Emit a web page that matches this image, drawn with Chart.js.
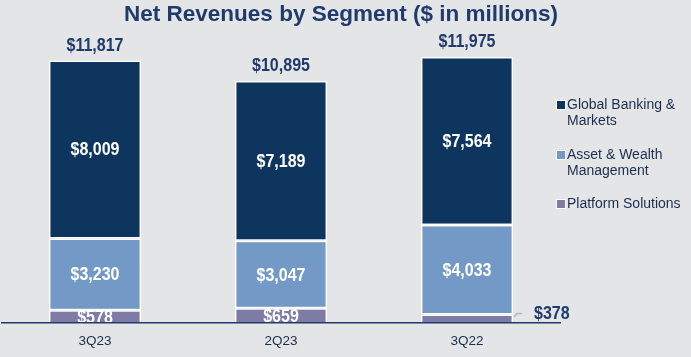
<!DOCTYPE html>
<html><head><meta charset="utf-8">
<script src="https://cdn.jsdelivr.net/npm/chart.js@4/dist/chart.umd.min.js"></script>
<style>html,body{margin:0;padding:0;background:#e4e5e7;}canvas{display:block;}</style>
</head><body>
<canvas id="c" width="691" height="357"></canvas>
<script>
const categories = ["3Q23", "2Q23", "3Q22"];
const platformSolutions = [578, 659, 378];
const assetWealth = [3230, 3047, 4033];
const globalBanking = [8009, 7189, 7564];
const totals = [11817, 10895, 11975];
const seriesNames = ["Global Banking & Markets", "Asset & Wealth Management", "Platform Solutions"];
const legendLines = [["Global Banking &", "Markets"], ["Asset & Wealth", "Management"], ["Platform Solutions"]];
const titleText = "Net Revenues by Segment ($ in millions)";

const NAVY = "#1f3a6b";
const COLORS = {gbm: "#0d355e", awm: "#7399c6", ps: "#7e7ca6"};
const SANS = "'Liberation Sans', Arial, sans-serif";

const fmt = v => "$" + v.toLocaleString("en-US");

function narrowText(ctx, txt, x, y, align) {
  const sx = 0.89;
  ctx.save();
  ctx.translate(x, y);
  ctx.scale(sx, 1);
  ctx.textAlign = align;
  ctx.fillText(txt, 0, 0);
  ctx.restore();
}

const labelPlugin = {
  id: "labels",
  afterDatasetsDraw(chart) {
    const ctx = chart.ctx;
    ctx.save();
    ctx.textBaseline = "middle";
    ctx.font = "bold 18px " + SANS;
    chart.data.datasets.forEach((ds, di) => {
      const meta = chart.getDatasetMeta(di);
      meta.data.forEach((bar, i) => {
        const v = ds.data[i];
        const h = Math.abs(bar.base - bar.y);
        if (h > 12) {
          ctx.fillStyle = "#ffffff";
          narrowText(ctx, fmt(v), bar.x, (bar.y + bar.base) / 2 + 1, "center");
        } else {
          const right = bar.x + bar.width / 2;
          ctx.strokeStyle = "#b8b8b8";
          ctx.lineWidth = 1.5;
          ctx.beginPath();
          ctx.moveTo(right + 1, bar.y + 2);
          ctx.lineTo(right + 4, bar.y - 1);
          ctx.lineTo(right + 9, bar.y - 1);
          ctx.stroke();
          ctx.fillStyle = NAVY;
          narrowText(ctx, fmt(v), right + 21, bar.y - 1, "left");
        }
      });
    });
    const topMeta = chart.getDatasetMeta(chart.data.datasets.length - 1);
    const yScale = chart.scales.y;
    ctx.fillStyle = NAVY;
    topMeta.data.forEach((bar, i) => {
      narrowText(ctx, fmt(totals[i]), bar.x, yScale.getPixelForValue(totals[i]) - 15, "center");
    });
    // title
    ctx.font = "bold 22.5px " + SANS;
    ctx.textAlign = "center";
    ctx.fillStyle = NAVY;
    ctx.fillText(titleText, 341, 15);
    // legend
    const order = [2, 1, 0];
    const ys = [105, 155, 204];
    ctx.textAlign = "left";
    ctx.font = "14px " + SANS;
    order.forEach((di, k) => {
      const ds = chart.data.datasets[di];
      const y = ys[k];
      ctx.fillStyle = "#ffffff";
      ctx.fillRect(556, y - 5, 10, 10);
      ctx.fillStyle = ds.backgroundColor;
      ctx.fillRect(557, y - 4, 8, 8);
      ctx.fillStyle = "#1c2d4f";
      legendLines[k].forEach((ln, j) => ctx.fillText(ln, 567, y + j * 16));
    });
    ctx.restore();
  }
};

const bgPlugin = {
  id: "bg",
  beforeDraw(chart) {
    const ctx = chart.ctx;
    ctx.save();
    ctx.fillStyle = "#e4e5e7";
    ctx.fillRect(0, 0, chart.width, chart.height);
    ctx.restore();
  }
};

new Chart(document.getElementById("c"), {
  type: "bar",
  data: {
    labels: categories,
    datasets: [
      {label: seriesNames[2], data: platformSolutions, backgroundColor: COLORS.ps, borderSkipped: "bottom"},
      {label: seriesNames[1], data: assetWealth, backgroundColor: COLORS.awm, borderSkipped: false},
      {label: seriesNames[0], data: globalBanking, backgroundColor: COLORS.gbm, borderSkipped: false}
    ].map(d => Object.assign(d, {borderColor: "#ffffff", borderWidth: 1.5, categoryPercentage: 1, barPercentage: 0.495}))
  },
  options: {
    responsive: false,
    animation: false,
    layout: {padding: {left: 2, right: 131, top: 41, bottom: 0}},
    plugins: {
      legend: {display: false},
      tooltip: {enabled: false},
      title: {display: false}
    },
    scales: {
      x: {
        stacked: true,
        grid: {display: false, drawTicks: false},
        border: {display: true, color: "#1f3a6b", width: 1.5, z: 1},
        ticks: {color: "#1c2d4f", font: {family: SANS, size: 13.5}, padding: 10},
        afterFit(scale) { scale.height = 34; }
      },
      y: {
        stacked: true,
        display: false,
        min: 0,
        max: 12700
      }
    }
  },
  plugins: [bgPlugin, labelPlugin]
});
</script>
</body></html>
